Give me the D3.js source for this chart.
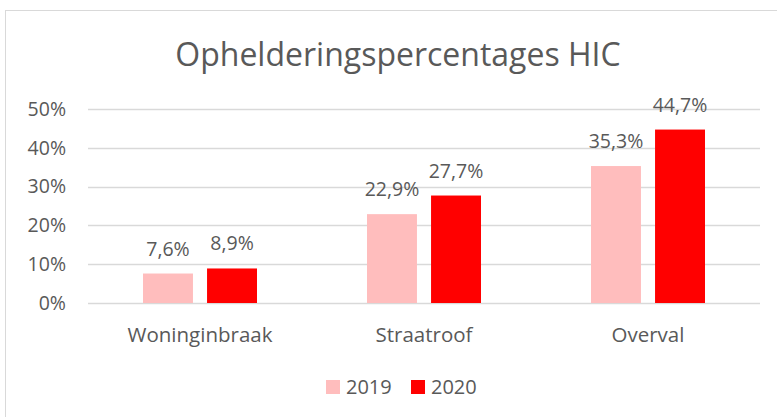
<!DOCTYPE html>
<html>
<head>
<meta charset="utf-8">
<script src="https://cdn.jsdelivr.net/npm/d3@7"></script>
<style>
  body { margin: 0; background: #fff; }
  text { font-family: "Open Sans", "Liberation Sans", sans-serif; fill: #595959; }
</style>
</head>
<body>
<div id="chart"></div>
<script>
var categories = ["Woninginbraak", "Straatroof", "Overval"];
var seriesNames = ["2019", "2020"];
var values2019 = [7.6, 22.9, 35.3];
var values2020 = [8.9, 27.7, 44.7];
var yTicks = [0, 10, 20, 30, 40, 50];
var colors = ["#ffbdbd", "#ff0000"];

var width = 777, height = 417;
var margin = { top: 109, right: 17, bottom: 114, left: 88 };

var svg = d3.select("#chart").append("svg")
    .attr("width", width)
    .attr("height", height);

// chart border
svg.append("rect")
    .attr("x", 5.5).attr("y", 10.5)
    .attr("width", 775).attr("height", 420)
    .attr("fill", "none")
    .attr("stroke", "#d9d9d9");

var x = d3.scaleBand()
    .domain(categories)
    .range([margin.left, width - margin.right]);

var groupWidth = 114;
var x1 = d3.scaleBand()
    .domain(seriesNames)
    .range([0, groupWidth])
    .paddingInner(0.22);

var y = d3.scaleLinear()
    .domain([0, 50])
    .range([height - margin.bottom, margin.top]);

// gridlines
svg.append("g")
    .selectAll("line")
    .data(yTicks)
    .enter().append("line")
    .attr("x1", margin.left)
    .attr("x2", width - margin.right)
    .attr("y1", d => Math.round(y(d)) + 0.5)
    .attr("y2", d => Math.round(y(d)) + 0.5)
    .attr("stroke", "#d9d9d9")
    .attr("stroke-width", 1.3);

// y tick labels
svg.append("g")
    .selectAll("text")
    .data(yTicks)
    .enter().append("text")
    .attr("x", 66)
    .attr("y", d => y(d))
    .attr("dy", "0.35em")
    .attr("text-anchor", "end")
    .style("font-size", "19.5px")
    .text(d => d + "%");

// bars
var rows = categories.map((c, i) => ({ cat: c, vals: [values2019[i], values2020[i]] }));

var groups = svg.append("g")
    .selectAll("g")
    .data(rows)
    .enter().append("g")
    .attr("transform", d => `translate(${x(d.cat) + x.bandwidth() / 2 - groupWidth / 2},0)`);

groups.selectAll("rect")
    .data(d => d.vals.map((v, j) => ({ v: v, s: seriesNames[j], j: j })))
    .enter().append("rect")
    .attr("x", d => x1(d.s))
    .attr("width", x1.bandwidth())
    .attr("y", d => y(d.v))
    .attr("height", d => y(0) - y(d.v))
    .attr("fill", d => colors[d.j]);

groups.selectAll("text")
    .data(d => d.vals.map((v, j) => ({ v: v, s: seriesNames[j] })))
    .enter().append("text")
    .attr("x", d => x1(d.s) + x1.bandwidth() / 2)
    .attr("y", d => y(d.v) - 18)
    .attr("text-anchor", "middle")
    .style("font-size", "19.5px")
    .text(d => d.v.toFixed(1).replace(".", ",") + "%");

// category labels
svg.append("g")
    .selectAll("text")
    .data(categories)
    .enter().append("text")
    .attr("x", d => x(d) + x.bandwidth() / 2)
    .attr("y", 342)
    .attr("text-anchor", "middle")
    .style("font-size", "20.5px")
    .text(d => d);

// title
svg.append("text")
    .attr("x", 398)
    .attr("y", 66)
    .attr("text-anchor", "middle")
    .style("font-size", "32px")
    .text("Ophelderingspercentages HIC");

// legend
var legendX = [326, 411];
var legend = svg.append("g")
    .selectAll("g")
    .data(seriesNames)
    .enter().append("g")
    .attr("transform", (d, i) => `translate(${legendX[i]},380)`);

legend.append("rect")
    .attr("width", 14).attr("height", 14)
    .attr("fill", (d, i) => colors[i]);

legend.append("text")
    .attr("x", 20)
    .attr("y", 7)
    .attr("dy", "0.35em")
    .style("font-size", "20px")
    .text(d => d);
</script>
</body>
</html>
